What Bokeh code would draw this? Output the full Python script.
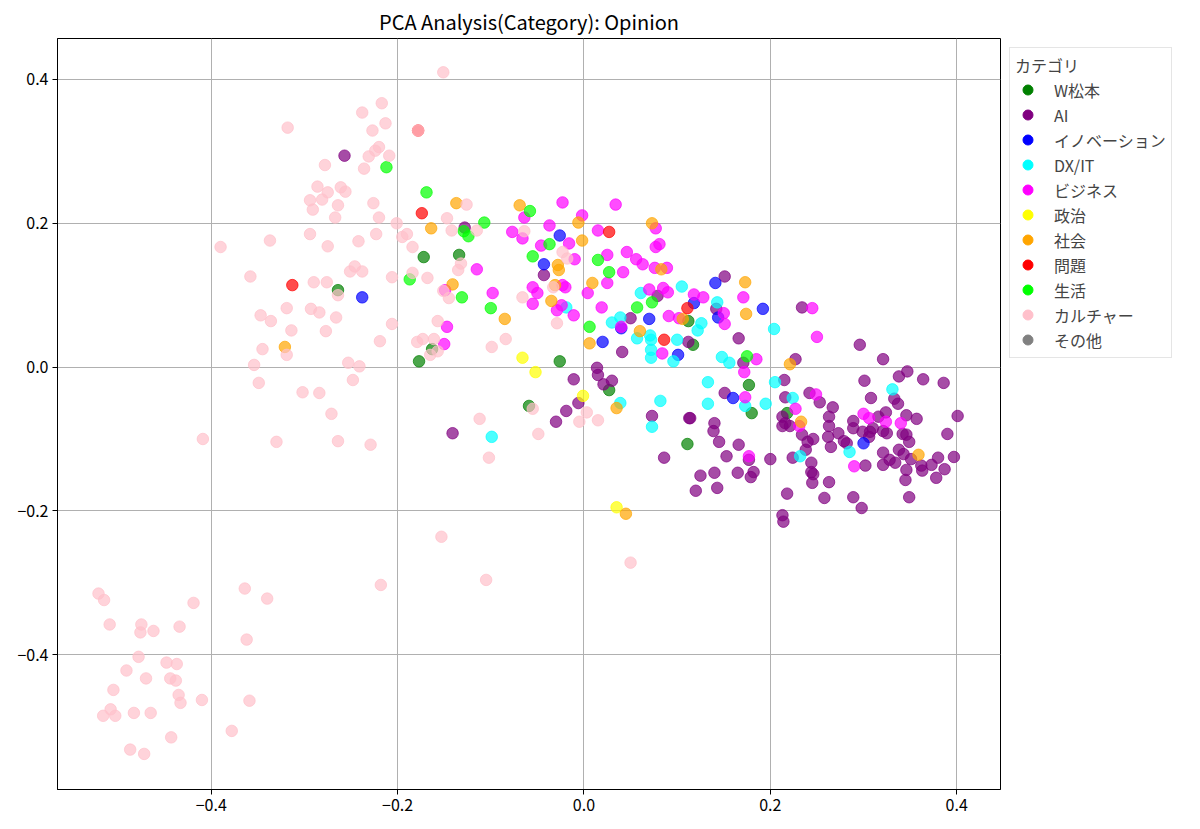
from bokeh.plotting import figure
from bokeh.models import ColumnDataSource, Legend, LegendItem, FixedTicker, Range1d
from bokeh.embed import file_html
from bokeh.resources import INLINE

categories = ["W松本", "AI", "イノベーション", "DX/IT", "ビジネス", "政治", "社会", "問題", "生活", "カルチャー", "その他"]
colors = ["green", "purple", "blue", "cyan", "magenta", "yellow", "orange", "red", "lime", "pink", "gray"]

w_x = [-0.264, -0.172, -0.134, -0.163, -0.177, -0.026, 0.112, 0.117, -0.059, 0.027, 0.111, 0.177, 0.180, 0.218]
w_y = [0.107, 0.153, 0.156, 0.025, 0.008, 0.008, 0.064, 0.031, -0.054, -0.032, -0.107, -0.025, -0.064, -0.064]

ai_x = [0.151, 0.142, 0.166, 0.234, 0.227, 0.296, 0.321, 0.171, 0.215, 0.301, 0.338, 0.347, 0.364, 0.386,
        0.151, 0.216, 0.242, 0.253, 0.267, 0.308, 0.333, 0.337, 0.114, 0.140, 0.139, 0.145, 0.166, 0.153,
        0.177, 0.182, 0.179, 0.165, 0.140, 0.125, 0.120, 0.143, 0.200, 0.213, 0.216, 0.213, 0.221, 0.218,
        0.213, 0.214, 0.234, 0.240, 0.246, 0.238, 0.224, 0.244, 0.244, 0.246, 0.245, 0.258, 0.263, 0.263,
        0.263, 0.273, 0.262, 0.265, 0.279, 0.282, 0.289, 0.289, 0.299, 0.306, 0.307, 0.310, 0.316, 0.324,
        0.321, 0.325, 0.321, 0.321, 0.328, 0.334, 0.338, 0.343, 0.342, 0.346, 0.349, 0.346, 0.357, 0.351,
        0.346, 0.345, 0.362, 0.363, 0.373, 0.380, 0.387, 0.378, 0.349, 0.390, 0.397, 0.401, 0.302, 0.289,
        0.298, -0.043, 0.050, 0.079, 0.041, 0.112, -0.128, 0.014, 0.015, -0.011, 0.021, 0.030, -0.006,
        -0.019, -0.030, -0.141, 0.073, 0.113, 0.086, -0.257]
ai_y = [0.126, 0.081, 0.040, 0.083, 0.011, 0.031, 0.011, 0.006, -0.018, -0.019, -0.013, -0.006, -0.017, -0.022,
        -0.036, -0.042, -0.036, -0.049, -0.056, -0.043, -0.044, -0.051, -0.071, -0.078, -0.089, -0.104, -0.108, -0.124,
        -0.129, -0.146, -0.153, -0.147, -0.147, -0.151, -0.172, -0.168, -0.128, -0.069, -0.078, -0.082, -0.082, -0.176,
        -0.206, -0.215, -0.094, -0.104, -0.100, -0.115, -0.126, -0.133, -0.146, -0.149, -0.161, -0.182, -0.160, -0.069,
        -0.082, -0.092, -0.097, -0.111, -0.103, -0.106, -0.075, -0.085, -0.090, -0.097, -0.090, -0.085, -0.069, -0.063,
        -0.089, -0.092, -0.119, -0.136, -0.129, -0.133, -0.115, -0.121, -0.093, -0.094, -0.104, -0.067, -0.072, -0.128,
        -0.143, -0.157, -0.137, -0.144, -0.136, -0.126, -0.142, -0.154, -0.181, -0.093, -0.125, -0.068, -0.137, -0.181,
        -0.196, 0.128, 0.068, 0.099, 0.021, 0.035, 0.194, -0.001, -0.011, -0.017, -0.024, -0.019, -0.050,
        -0.061, -0.076, -0.092, -0.068, -0.071, -0.126, 0.294]

inno_x = [-0.238, -0.026, -0.043, 0.070, 0.020, 0.040, 0.101, 0.118, 0.141, 0.192, 0.144, 0.160, 0.300]
inno_y = [0.097, 0.183, 0.143, 0.067, 0.035, 0.054, 0.017, 0.089, 0.117, 0.081, 0.069, -0.043, -0.106]

dx_x = [0.105, 0.061, 0.030, 0.039, 0.057, 0.071, 0.072, 0.072, 0.072, 0.096, 0.100, 0.126, 0.122, -0.019,
        0.143, 0.148, 0.156, 0.133, 0.133, 0.204, 0.205, 0.195, 0.224, 0.173, 0.232, 0.285, 0.331, 0.039,
        0.082, 0.073, -0.099]
dx_y = [0.112, 0.103, 0.062, 0.069, 0.040, 0.044, 0.038, 0.024, 0.013, 0.008, 0.038, 0.061, 0.051, 0.083,
        0.090, 0.014, 0.006, -0.021, -0.051, 0.053, -0.021, -0.051, -0.043, -0.054, -0.124, -0.118, -0.031, -0.050,
        -0.047, -0.083, -0.097]

biz_x = [-0.023, 0.034, -0.002, -0.064, -0.077, -0.066, -0.037, -0.046, -0.016, -0.010, 0.015, 0.077, 0.081,
         0.077, 0.046, 0.056, 0.063, 0.025, 0.042, 0.025, 0.004, 0.076, 0.089, 0.070, 0.085, 0.090, 0.019,
         0.091, 0.118, 0.128, 0.102, 0.084, 0.040, -0.055, -0.050, -0.055, -0.023, -0.020, -0.029, -0.024,
         -0.011, -0.098, -0.115, -0.147, -0.150, -0.149, 0.171, 0.150, 0.151, 0.185, 0.172, 0.173, 0.245,
         0.250, 0.249, 0.227, 0.231, 0.300, 0.306, 0.324, 0.340, 0.290, 0.177]
biz_y = [0.229, 0.226, 0.211, 0.208, 0.188, 0.179, 0.197, 0.169, 0.172, 0.150, 0.190, 0.193, 0.171,
         0.167, 0.160, 0.150, 0.143, 0.156, 0.132, 0.117, 0.103, 0.138, 0.138, 0.108, 0.110, 0.104, 0.083,
         0.071, 0.101, 0.097, 0.068, 0.019, 0.056, 0.111, 0.103, 0.088, 0.114, 0.111, 0.079, 0.086,
         0.072, 0.103, 0.136, 0.056, 0.032, 0.107, 0.097, 0.075, 0.060, 0.011, -0.007, -0.042, 0.082,
         0.042, -0.038, -0.058, -0.082, -0.065, -0.071, -0.076, -0.078, -0.138, -0.124]

pol_x = [-0.066, -0.052, -0.001, 0.035]
pol_y = [0.013, -0.007, -0.040, -0.195]

soc_x = [-0.321, -0.137, -0.069, -0.164, -0.006, -0.002, -0.028, -0.027, -0.141, 0.009, -0.035, -0.085, 0.006,
         0.060, 0.073, 0.083, 0.106, -0.031, 0.173, 0.174, 0.221, 0.233, 0.359, 0.035, 0.045]
soc_y = [0.028, 0.228, 0.225, 0.193, 0.201, 0.176, 0.142, 0.135, 0.115, 0.117, 0.092, 0.067, 0.033,
         0.050, 0.200, 0.136, 0.067, 0.114, 0.118, 0.074, 0.004, -0.076, -0.122, -0.057, -0.204]

prob_x = [-0.178, -0.313, -0.174, 0.027, 0.111, 0.086]
prob_y = [0.329, 0.114, 0.214, 0.188, 0.082, 0.038]

life_x = [-0.212, -0.169, -0.058, -0.107, -0.129, -0.124, -0.037, -0.055, 0.015, 0.027, -0.187, -0.131,
          -0.100, 0.006, 0.057, 0.073, 0.175]
life_y = [0.278, 0.243, 0.217, 0.201, 0.189, 0.182, 0.171, 0.154, 0.149, 0.132, 0.122, 0.097,
          0.082, 0.056, 0.083, 0.090, 0.015]

cul_x = [-0.390, -0.358, -0.337, -0.294, -0.275, -0.242, -0.223, -0.251, -0.246, -0.238, -0.290, -0.276,
         -0.264, -0.319, -0.293, -0.284, -0.266, -0.347, -0.336, -0.314, -0.277, -0.219, -0.345, -0.319,
         -0.354, -0.253, -0.241, -0.206, -0.206, -0.217, -0.238, -0.213, -0.227, -0.318, -0.220, -0.224,
         -0.231, -0.209, -0.236, -0.278, -0.286, -0.261, -0.256, -0.275, -0.294, -0.281, -0.291, -0.264,
         -0.226, -0.220, -0.267, -0.201, -0.151, -0.178, -0.349, -0.302, -0.284, -0.248, -0.271, -0.330,
         -0.264, -0.229, -0.409, -0.521, -0.515, -0.509, -0.475, -0.476, -0.462, -0.434, -0.419, -0.364,
         -0.340, -0.362, -0.218, -0.478, -0.448, -0.437, -0.491, -0.470, -0.444, -0.438, -0.505, -0.435,
         -0.433, -0.410, -0.359, -0.508, -0.516, -0.503, -0.483, -0.465, -0.443, -0.378, -0.487, -0.472,
         -0.126, -0.147, -0.142, -0.115, -0.190, -0.195, -0.184, -0.184, -0.168, -0.135, -0.132, -0.151,
         -0.145, -0.157, -0.179, -0.173, -0.161, -0.165, -0.157, -0.099, -0.084, -0.066, -0.029, -0.023,
         -0.018, -0.033, -0.064, -0.055, -0.112, -0.049, -0.102, 0.003, -0.005, 0.015, -0.153, 0.050, -0.105]
cul_y = [0.167, 0.126, 0.176, 0.185, 0.168, 0.175, 0.185, 0.133, 0.140, 0.133, 0.118, 0.118,
         0.100, 0.082, 0.081, 0.076, 0.069, 0.072, 0.064, 0.051, 0.050, 0.036, 0.025, 0.017,
         0.003, 0.006, 0.001, 0.125, 0.060, 0.367, 0.354, 0.339, 0.329, 0.333, 0.306, 0.301,
         0.293, 0.294, 0.276, 0.281, 0.251, 0.250, 0.244, 0.243, 0.232, 0.233, 0.219, 0.225,
         0.228, 0.208, 0.208, 0.200, 0.410, 0.329, -0.022, -0.035, -0.036, -0.018, -0.065, -0.104,
         -0.103, -0.108, -0.100, -0.315, -0.324, -0.358, -0.358, -0.369, -0.367, -0.361, -0.328, -0.308,
         -0.322, -0.379, -0.303, -0.403, -0.411, -0.413, -0.422, -0.433, -0.433, -0.436, -0.449, -0.456,
         -0.467, -0.463, -0.464, -0.476, -0.485, -0.485, -0.481, -0.481, -0.515, -0.506, -0.532, -0.538,
         0.226, 0.207, 0.190, 0.190, 0.185, 0.181, 0.167, 0.131, 0.124, 0.135, 0.144, 0.106,
         0.096, 0.064, 0.035, 0.039, 0.039, 0.017, 0.022, 0.028, 0.039, 0.097, 0.061, 0.160,
         0.151, 0.111, 0.189, -0.058, -0.072, -0.093, -0.126, -0.063, -0.076, -0.074, -0.236, -0.272, -0.296]

other_x = []
other_y = []

series_x = [w_x, ai_x, inno_x, dx_x, biz_x, pol_x, soc_x, prob_x, life_x, cul_x, other_x]
series_y = [w_y, ai_y, inno_y, dx_y, biz_y, pol_y, soc_y, prob_y, life_y, cul_y, other_y]

x_ticks = [-0.4, -0.2, 0.0, 0.2, 0.4]
x_labels = ["−0.4", "−0.2", "0.0", "0.2", "0.4"]
y_ticks = [-0.4, -0.2, 0.0, 0.2, 0.4]
y_labels = ["−0.4", "−0.2", "0.0", "0.2", "0.4"]

FONT = "Noto Sans CJK JP"
NAN = float("nan")

p = figure(frame_width=943, frame_height=751,
           x_range=Range1d(-0.565, 0.447), y_range=Range1d(-0.5875, 0.457),
           output_backend="svg", toolbar_location=None,
           title="PCA Analysis(Category): Opinion",
           min_border_left=57, min_border_top=38, min_border_right=4, min_border_bottom=36)
p.background_fill_color = "white"
p.border_fill_color = "white"
p.outline_line_color = "black"
p.outline_line_width = 1

p.title.align = "center"
p.title.text_font = FONT
p.title.text_font_style = "normal"
p.title.text_font_size = "20px"
p.title.text_color = "black"
p.title.standoff = 6

for ax, ticks, labels in ((p.xaxis[0], x_ticks, x_labels), (p.yaxis[0], y_ticks, y_labels)):
    ax.ticker = FixedTicker(ticks=ticks)
    ax.major_label_overrides = {t: l for t, l in zip(ticks, labels)}
    ax.major_label_text_font = FONT
    ax.major_label_text_font_size = "16px"
    ax.major_label_text_color = "black"
    ax.major_label_standoff = 4
    ax.major_tick_out = 5
    ax.major_tick_in = 0
    ax.minor_tick_out = 0
    ax.minor_tick_in = 0
    ax.axis_line_color = "black"
    ax.major_tick_line_color = "black"

for g in (p.xgrid[0], p.ygrid[0]):
    g.grid_line_color = "#b0b0b0"
    g.grid_line_width = 1
p.xgrid[0].ticker = FixedTicker(ticks=x_ticks)
p.ygrid[0].ticker = FixedTicker(ticks=y_ticks)

items = []
for cat, col, xs, ys in zip(categories, colors, series_x, series_y):
    src = ColumnDataSource(data=dict(x=xs, y=ys))
    p.scatter(x="x", y="y", source=src, size=11.5, marker="circle",
              fill_color=col, line_color=col, fill_alpha=0.7, line_alpha=0.7)
    # legend-only swatch (no visible point)
    lsrc = ColumnDataSource(data=dict(x=[NAN], y=[NAN]))
    lr = p.scatter(x="x", y="y", source=lsrc, size=11.5, marker="circle",
                   fill_color=col, line_color=col, fill_alpha=1.0, line_alpha=1.0)
    items.append(LegendItem(label=cat, renderers=[lr]))

legend = Legend(items=items, title="カテゴリ", location="top_left")
legend.title_text_font = FONT
legend.title_text_font_size = "16px"
legend.title_text_font_style = "normal"
legend.title_standoff = 0
legend.label_text_font = FONT
legend.label_text_font_size = "16px"
legend.label_height = 25
legend.glyph_height = 25
legend.glyph_width = 25
legend.spacing = 0
legend.label_standoff = 14
legend.padding = 5
legend.margin = 9
legend.border_line_color = "#cccccc"
legend.border_line_width = 1
legend.background_fill_alpha = 1.0
p.add_layout(legend, "right")

open("out.html", "w").write(file_html(p, INLINE))
